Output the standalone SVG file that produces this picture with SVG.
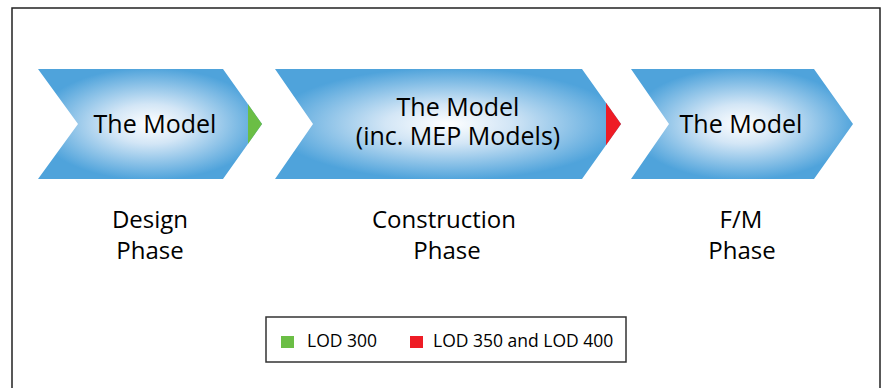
<svg xmlns="http://www.w3.org/2000/svg" width="883" height="388" viewBox="0 0 883 388">
<style>
.t{font-family:"Open Sans","Liberation Sans",sans-serif;fill:#000;text-anchor:middle}
.c{font-size:25px}
.p{font-size:24px}
.l{font-size:17.5px;text-anchor:start}
.chev{fill:url(#g)}
</style>
<defs>
<radialGradient id="g" cx="0.5" cy="0.5" r="0.6">
<stop offset="0" stop-color="#ffffff"/>
<stop offset="0.3" stop-color="#d3e6f6"/>
<stop offset="0.85" stop-color="#4fa3db"/>
<stop offset="1" stop-color="#4fa3db"/>
</radialGradient>
</defs>
<rect x="0" y="0" width="883" height="388" fill="#fff"/>
<rect x="12" y="8" width="868" height="400" fill="none" stroke="#222" stroke-width="1.5"/>
<g id="design">
<polygon class="chev" points="38,69 223,69 262,124 223,179 38,179 78,124"/>
<polygon fill="#6bbe45" points="248,104.3 262,124 248,143.7"/>
<text class="t c" x="155" y="133">The Model</text>
<text class="t p" x="150" y="228">Design</text>
<text class="t p" x="150" y="259">Phase</text>
</g>
<g id="construction">
<polygon class="chev" points="275,69 582,69 621,124 582,179 275,179 313,124"/>
<polygon fill="#ee1c25" points="606,102.8 621,124 606,145.2"/>
<text class="t c" x="458" y="116">The Model</text>
<text class="t c" x="458" y="145">(inc. MEP Models)</text>
<text class="t p" x="444" y="228">Construction</text>
<text class="t p" x="447" y="259">Phase</text>
</g>
<g id="fm">
<polygon class="chev" points="631,69 814,69 853,124 814,179 631,179 669,124"/>
<text class="t c" x="741" y="133">The Model</text>
<text class="t p" x="741" y="228">F/M</text>
<text class="t p" x="742" y="259">Phase</text>
</g>
<g id="connectors"></g>
<g id="legend">
<rect x="266" y="317" width="360" height="45" fill="#fff" stroke="#333" stroke-width="1.5"/>
<rect x="281" y="336" width="13" height="12" fill="#6bbe45"/>
<text class="t l" x="307" y="347">LOD 300</text>
<rect x="410" y="336" width="13" height="12" fill="#ee1c25"/>
<text class="t l" x="433" y="347">LOD 350 and LOD 400</text>
</g>
</svg>
